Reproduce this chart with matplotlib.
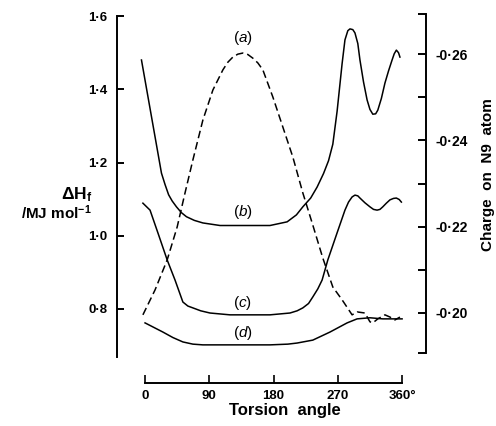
import matplotlib
matplotlib.use('Agg')
import matplotlib.pyplot as plt

plt.rcParams['font.family'] = ['Liberation Sans', 'DejaVu Sans']
plt.rcParams['mathtext.fontset'] = 'custom'
plt.rcParams['mathtext.rm'] = 'Liberation Sans'
plt.rcParams['mathtext.it'] = 'Liberation Sans:italic'
plt.rcParams['mathtext.bf'] = 'Liberation Sans:bold'

# =============================================================
# DATA (torsion angle in degrees, value on the left scale)
# =============================================================
ang_a = [-3, 14, 31, 45, 56, 67, 81, 95, 109, 116, 123, 130, 137, 144, 151,
         158, 165, 179, 193, 207, 221, 235, 249, 263, 276, 290, 297, 308,
         315, 319, 326, 336, 343, 350, 357]
val_a = [0.784, 0.852, 0.934, 1.024, 1.117, 1.207, 1.316, 1.398, 1.453,
         1.474, 1.488, 1.496, 1.499, 1.495, 1.485, 1.472, 1.453, 1.379,
         1.297, 1.215, 1.117, 1.029, 0.939, 0.860, 0.825, 0.784, 0.792,
         0.789, 0.765, 0.762, 0.773, 0.784, 0.778, 0.770, 0.778]

ang_b = [-5, 23, 28, 33, 38, 44, 51, 58, 69, 81, 105, 175, 199, 212, 221,
         232, 241, 250, 257, 263, 269, 276, 280, 284, 287, 291, 294, 298,
         301, 306, 311, 315, 319, 323, 326, 331, 336, 341, 346, 349, 352,
         355, 357]
val_b = [1.480, 1.171, 1.140, 1.112, 1.095, 1.079, 1.063, 1.052, 1.042,
         1.035, 1.028, 1.028, 1.038, 1.057, 1.079, 1.103, 1.133, 1.170,
         1.205, 1.250, 1.340, 1.470, 1.535, 1.560, 1.565, 1.563, 1.554,
         1.525, 1.480, 1.420, 1.371, 1.345, 1.332, 1.333, 1.343, 1.375,
         1.417, 1.450, 1.480, 1.497, 1.507, 1.500, 1.488]

ang_c = [-3, 7, 18, 31, 42, 53, 60, 67, 78, 91, 119, 175, 203, 213, 221,
         229, 235, 242, 248, 256, 269, 280, 285, 290, 294, 298, 301, 308,
         315, 320, 325, 329, 333, 338, 343, 348, 352, 356, 359]
val_c = [1.089, 1.070, 1.008, 0.934, 0.879, 0.819, 0.808, 0.803, 0.795,
         0.789, 0.784, 0.784, 0.789, 0.795, 0.803, 0.815, 0.833, 0.855,
         0.879, 0.934, 1.008, 1.070, 1.092, 1.106, 1.111, 1.109, 1.103,
         1.090, 1.079, 1.072, 1.070, 1.072, 1.079, 1.089, 1.098, 1.102,
         1.103, 1.099, 1.092]

ang_d = [0, 12, 25, 39, 53, 67, 81, 175, 200, 213, 235, 259, 283, 297, 315,
         333, 360]
val_d = [0.762, 0.750, 0.737, 0.722, 0.710, 0.704, 0.702, 0.702, 0.704,
         0.707, 0.715, 0.737, 0.762, 0.773, 0.776, 0.773, 0.773]

left_ticks = [0.8, 1.0, 1.2, 1.4, 1.6]
left_labels = ['0·8', '1·0', '1·2', '1·4', '1·6']
right_ticks = [-0.26, -0.25, -0.24, -0.23, -0.22, -0.21, -0.20]
right_labels = ['-0·26', '', '-0·24', '', '-0·22', '', '-0·20']
x_ticks = [0, 90, 180, 270, 360]
x_labels = ['0', '90', '180', '270', '360°']

curve_labels = ['(a)', '(b)', '(c)', '(d)']
curve_label_pos = [(137, 1.540), (137, 1.065), (137, 0.816), (137, 0.735)]

# =============================================================
# PLOT
# =============================================================
fig = plt.figure(figsize=(4.96, 4.26), dpi=100)
ax = fig.add_axes([0.236, 0.162, 0.623, 0.805])

lw = 1.1
ax.plot(ang_a, val_a, color='black', lw=lw, dashes=(5, 2.6))
ax.plot(ang_b, val_b, color='black', lw=lw)
ax.plot(ang_c, val_c, color='black', lw=lw)
ax.plot(ang_d, val_d, color='black', lw=lw)

for txt, (x, y) in zip(curve_labels, curve_label_pos):
    ax.text(x, y, '$' + txt.replace('(', '(\\mathit{').replace(')', '})') + '$',
            ha='center', va='center', fontsize=11)

ax.set_xlim(-39.2, 393.6)
ax.set_ylim(0.6689, 1.6055)

ax.spines['top'].set_visible(False)
ax.spines['right'].set_visible(False)
ax.spines['left'].set_bounds(0.669, 1.6)
ax.spines['bottom'].set_position(('outward', 18.7))
ax.spines['bottom'].set_bounds(0, 360)
for s in ['left', 'bottom']:
    ax.spines[s].set_linewidth(1.4)

ax.set_yticks(left_ticks)
ax.set_yticklabels(left_labels, fontweight='bold', fontsize=9.5)
ax.set_xticks(x_ticks)
ax.set_xticklabels(x_labels, fontweight='bold', fontsize=9.5)
ax.tick_params(axis='y', direction='in', length=5, width=1.4, pad=7)
ax.tick_params(axis='x', direction='in', length=6, width=1.2, pad=5)

ax2 = ax.twinx()
ax2.set_ylim(-0.1898, -0.2693)
for s in ['top', 'bottom', 'left']:
    ax2.spines[s].set_visible(False)
ax2.spines['right'].set_bounds(-0.1907, -0.2693)
ax2.spines['right'].set_linewidth(1.4)
ax2.set_yticks([-0.2693] + right_ticks + [-0.1907])
ax2.set_yticklabels([''] + right_labels + [''], fontweight='bold', fontsize=10)
ax2.tick_params(axis='y', direction='in', length=6, width=1.4, pad=6.5)

# axis titles
fig.text(92 / 496, 1 - 199 / 426, r'$\mathbf{\Delta H}_\mathbf{f}$',
         ha='right', va='baseline', fontsize=12.5)
fig.text(92 / 496, 1 - 219 / 426, r'/MJ mol$^{\mathbf{-1}}$',
         ha='right', va='baseline', fontsize=11, fontweight='bold')
fig.text(285 / 496, 1 - 411 / 426, 'Torsion  angle',
         ha='center', va='center', fontsize=12, fontweight='bold')
fig.text(488 / 496, 1 - 175 / 426, 'Charge  on  N9  atom', rotation=90,
         ha='center', va='center', fontsize=11, fontweight='bold')

fig.savefig('out.png', dpi=100)
